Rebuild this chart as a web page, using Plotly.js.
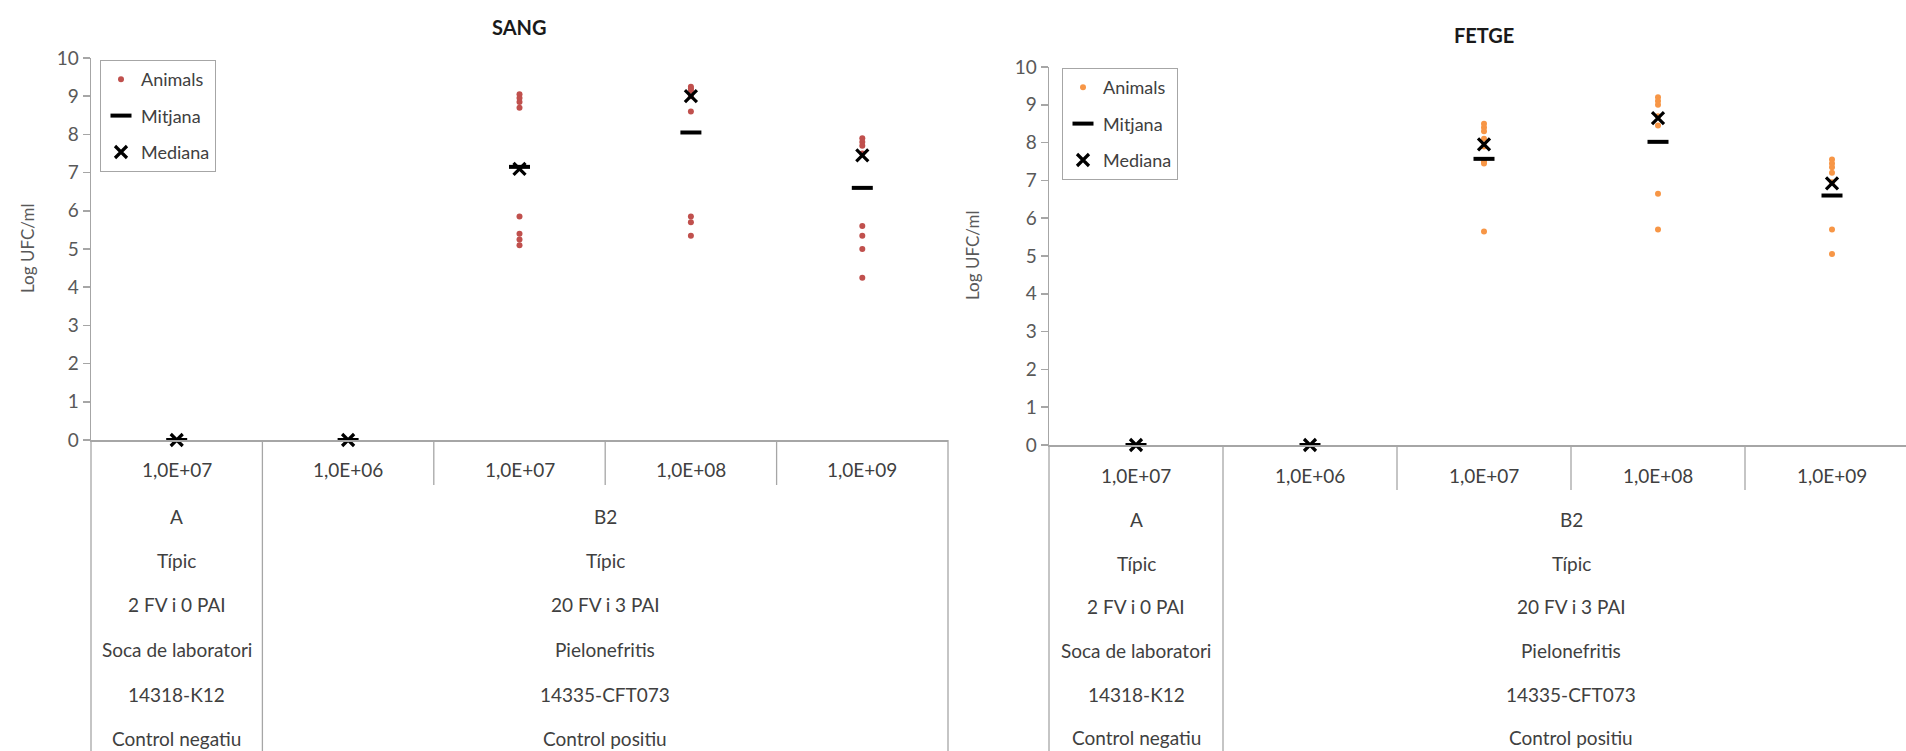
<!DOCTYPE html>
<html>
<head>
<meta charset="utf-8">
<script src="https://cdn.plot.ly/plotly-3.0.1.min.js"></script>
<style>
  html, body { margin: 0; padding: 0; background: #ffffff; }
  #chart { width: 1906px; height: 751px; }
</style>
</head>
<body>
<div id="chart"></div>
<script>
// ---------------- DATA ----------------
const doseLabels = ['1,0E+07', '1,0E+06', '1,0E+07', '1,0E+08', '1,0E+09'];
const groupA = ['A', 'Típic', '2 FV i 0 PAI', 'Soca de laboratori', '14318-K12', 'Control negatiu'];
const groupB2 = ['B2', 'Típic', '20 FV i 3 PAI', 'Pielonefritis', '14335-CFT073', 'Control positiu'];
const legendNames = ['Animals', 'Mitjana', 'Mediana'];
const chartTitles = ['SANG', 'FETGE'];
const yTitle = 'Log UFC/ml';

// SANG (blood) – individual animals per dose column
const sangAnimals = [
  [],
  [],
  [9.05, 8.95, 8.85, 8.7, 5.85, 5.4, 5.25, 5.1],
  [9.25, 9.2, 9.15, 9.0, 8.6, 5.85, 5.7, 5.35],
  [7.9, 7.8, 7.7, 7.5, 5.6, 5.35, 5.0, 4.25]
];
const sangMitjana = [0, 0, 7.15, 8.05, 6.6];
const sangMediana = [0, 0, 7.1, 9.0, 7.45];

// FETGE (liver)
const fetgeAnimals = [
  [],
  [],
  [8.5, 8.4, 8.3, 8.1, 7.9, 7.5, 7.45, 5.65],
  [9.2, 9.1, 9.0, 8.7, 8.45, 6.65, 5.7],
  [7.55, 7.45, 7.35, 7.2, 6.95, 5.7, 5.05]
];
const fetgeMitjana = [0, 0, 7.57, 8.02, 6.6];
const fetgeMediana = [0, 0, 7.95, 8.65, 6.92];

// ---------------- STYLE / LAYOUT ----------------
const FONT = 'Lato, "Open Sans", "Noto Sans", sans-serif';
const W = 1906, H = 751;
const gridCol = '#a6a6a6';
const txtCol = '#404040';
const tickCol = '#595959';
const red = '#c0504d';
const orange = '#f79646';

// pixel frames of the two plot areas
const frames = [
  { x0: 91, x1: 948, top: 58, bot: 440, catW: (948 - 91) / 5,
    rows: [30, 76, 120, 164, 209, 254, 298] },
  { x0: 1049, x1: 1906, top: 67, bot: 445, catW: 174,
    rows: [30, 74, 118, 161, 205, 249, 292] }
];
const ranges = frames.map(f => [-0.5, -0.5 + (f.x1 - f.x0) / f.catW]);

const idx = doseLabels.map((_, i) => i);

function flatten(groups) {
  const xs = [], ys = [];
  groups.forEach((vals, i) => vals.forEach(v => { xs.push(i); ys.push(v); }));
  return { xs, ys };
}

function traces(animals, mitjana, mediana, color, xa, ya, leg) {
  const a = flatten(animals);
  return [
    { type: 'scatter', mode: 'markers', x: a.xs, y: a.ys, xaxis: xa, yaxis: ya,
      name: legendNames[0], legend: leg, legendgroup: leg + 'a',
      marker: { symbol: 'circle', size: 6, color: color }, cliponaxis: false },
    { type: 'scatter', mode: 'markers', x: idx, y: mitjana, xaxis: xa, yaxis: ya,
      name: legendNames[1], legend: leg, legendgroup: leg + 'b',
      marker: { symbol: 'line-ew', size: 15, color: '#000', line: { color: '#000', width: 4 } }, cliponaxis: false },
    { type: 'scatter', mode: 'markers', x: idx, y: mediana, xaxis: xa, yaxis: ya,
      name: legendNames[2], legend: leg, legendgroup: leg + 'c',
      marker: { symbol: 'x-thin', size: 12, color: '#000', line: { color: '#000', width: 3.2 } }, cliponaxis: false }
  ];
}

const data = [
  ...traces(sangAnimals, sangMitjana, sangMediana, red, 'x', 'y', 'legend'),
  ...traces(fetgeAnimals, fetgeMitjana, fetgeMediana, orange, 'x2', 'y2', 'legend2')
];

function xAxis(k, anchor) {
  const f = frames[k];
  return {
    domain: [f.x0 / W, f.x1 / W], range: ranges[k], anchor: anchor,
    showgrid: false, zeroline: false, showline: true, linecolor: gridCol, linewidth: 1.5,
    tickvals: idx, ticktext: doseLabels, showticklabels: false, ticks: '',
    fixedrange: true
  };
}
function yAxis(k, anchor) {
  const f = frames[k];
  return {
    domain: [(H - f.bot) / H, (H - f.top) / H], range: [0, 10], anchor: anchor,
    dtick: 1, tick0: 0, showgrid: false, zeroline: false,
    showline: true, linecolor: gridCol, linewidth: 1.5,
    ticks: 'outside', ticklen: 7, tickcolor: gridCol, tickwidth: 1.5,
    tickfont: { family: FONT, size: 19, color: tickCol },
    fixedrange: true
  };
}

const shapes = [];
const annotations = [];
const tableFont = { family: FONT, size: 19, color: txtCol };

[0, 1].forEach(k => {
  const f = frames[k];
  const xr = k === 0 ? 'x' : 'x2';
  const yr = k === 0 ? 'y' : 'y2';
  const r = ranges[k];
  const frac = b => (b - r[0]) / (r[1] - r[0]);
  const line = (b, len) => shapes.push({
    type: 'line', xref: xr + ' domain', yref: yr + ' domain',
    x0: frac(b), x1: frac(b), ysizemode: 'pixel', yanchor: 0, y0: 0, y1: -len,
    line: { color: gridCol, width: 1.3 }
  });
  // long borders
  line(-0.5, 400);
  line(0.5, 400);
  if (4.5 <= r[1]) line(4.5, 400);
  // short dividers in the dose row
  [1.5, 2.5, 3.5].forEach(b => line(b, 45));

  // dose row
  doseLabels.forEach((lab, i) => annotations.push({
    xref: xr, yref: yr + ' domain', x: i, y: 0, yshift: -f.rows[0],
    text: lab, showarrow: false, yanchor: 'middle', xanchor: 'center', font: tableFont
  }));
  // group rows
  groupA.forEach((lab, j) => annotations.push({
    xref: xr, yref: yr + ' domain', x: 0, y: 0, yshift: -f.rows[j + 1],
    text: lab, showarrow: false, yanchor: 'middle', xanchor: 'center', font: tableFont
  }));
  groupB2.forEach((lab, j) => annotations.push({
    xref: xr, yref: yr + ' domain', x: 2.5, y: 0, yshift: -f.rows[j + 1],
    text: lab, showarrow: false, yanchor: 'middle', xanchor: 'center', font: tableFont
  }));
  // chart title
  annotations.push({
    xref: xr, yref: 'paper', x: 2, y: k === 0 ? 1 - 27 / H : 1 - 35 / H,
    text: '<b>' + chartTitles[k] + '</b>', showarrow: false, yanchor: 'middle',
    font: { family: FONT, size: 20, color: '#1a1a1a' }
  });
  // y axis title
  annotations.push({
    xref: xr + ' domain', yref: yr + ' domain', x: 0, y: 0.5,
    xshift: k === 0 ? -64 : -76, textangle: -90, text: yTitle, showarrow: false,
    xanchor: 'center', yanchor: 'middle',
    font: { family: FONT, size: 17, color: tickCol }
  });
});

const legendBase = {
  xanchor: 'left', yanchor: 'top', bgcolor: '#ffffff',
  bordercolor: '#a6a6a6', borderwidth: 1,
  font: { family: FONT, size: 18, color: txtCol },
  traceorder: 'grouped', tracegroupgap: 10, itemwidth: 30
};

const layout = {
  width: W, height: H,
  margin: { l: 0, r: 0, t: 0, b: 0 },
  paper_bgcolor: '#ffffff', plot_bgcolor: '#ffffff',
  showlegend: true,
  xaxis: xAxis(0, 'y'), yaxis: yAxis(0, 'x'),
  xaxis2: xAxis(1, 'y2'), yaxis2: yAxis(1, 'x2'),
  legend: Object.assign({}, legendBase, { x: 100 / W, y: 1 - 60 / H }),
  legend2: Object.assign({}, legendBase, { x: 1062 / W, y: 1 - 68 / H }),
  shapes: shapes,
  annotations: annotations
};

Plotly.newPlot('chart', data, layout, { displayModeBar: false, staticPlot: true });
</script>
</body>
</html>
